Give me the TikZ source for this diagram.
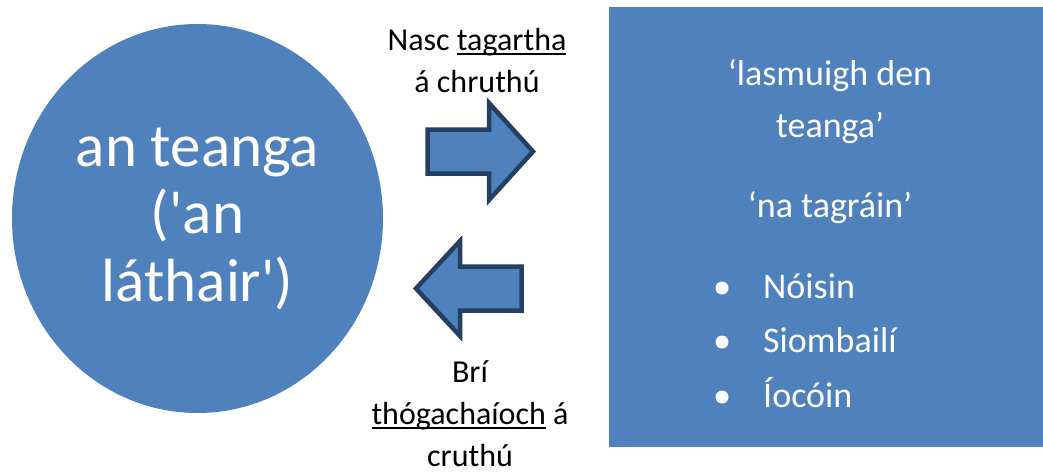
\documentclass[tikz,border=0pt]{standalone}
\usepackage{fontspec}
\setmainfont{Carlito}
\usetikzlibrary{positioning,shapes.geometric}

\definecolor{blockblue}{HTML}{4F81BD}
\definecolor{darkedge}{HTML}{243F60}

% thick underline for single words
\newcommand{\undl}[1]{\setbox0\hbox{#1}\rlap{\rule[-4.5pt]{\wd0}{2pt}}\box0\relax}

\begin{document}
\begin{tikzpicture}[x=1pt, y=-1pt,
    blockarrow/.style={fill=blockblue, draw=darkedge, line width=4.5pt, miter limit=20},
    caption/.style={align=center, font=\fontsize{32}{42}\selectfont, inner sep=0pt, anchor=base},
    boxtext/.style={align=center, font=\fontsize{36}{52}\selectfont, text=white, inner sep=0pt, anchor=base},
    bullet/.style={circle, fill=white, inner sep=0pt, minimum size=13pt}]

    \useasboundingbox (0,0) rectangle (1043,475);

    % Language (left) and the world outside it (right)
    \node[ellipse, fill=blockblue, minimum width=371pt, minimum height=389pt,
          align=center, text=white, font=\fontsize{61}{67.5}\selectfont] (lang) at (197.5,218.5)
        {an teanga\\(\textquotesingle an\\láthair\textquotesingle)};
    \node[rectangle, fill=blockblue, minimum width=434pt, minimum height=440pt] (outside) at (826,227) {};

    % Box contents (anchored on the last baseline)
    \node[boxtext] (title) at (830,137) {‘lasmuigh den\\teanga’};
    \node[boxtext] (refs) at (830,217) {‘na tagráin’};
    \foreach \y/\word [count=\i] in {298/Nóisin, 352/Siombailí, 407/Íocóin} {
        \node[bullet] (dot-\i) at (722,\y-10) {};
        \node[boxtext, anchor=base west] (item-\i) at (763,\y) {\word};
    }

    % Block arrows
    \draw[blockarrow] (427.5,129.5) -- (489,129.5) -- (489,103) -- (533,151.5)
        -- (489,200) -- (489,173.5) -- (427.5,173.5) -- cycle;
    \draw[blockarrow] (521.5,266.5) -- (460,266.5) -- (460,241) -- (416,288.5)
        -- (460,336) -- (460,310.5) -- (521.5,310.5) -- cycle;

    % Captions
    \node[caption] (link) at (477,92) {Nasc \undl{tagartha}\\á chruthú};
    \node[caption] (meaning) at (470,466) {Brí\\\undl{thógachaíoch} á\\cruthú};

\end{tikzpicture}
\end{document}
